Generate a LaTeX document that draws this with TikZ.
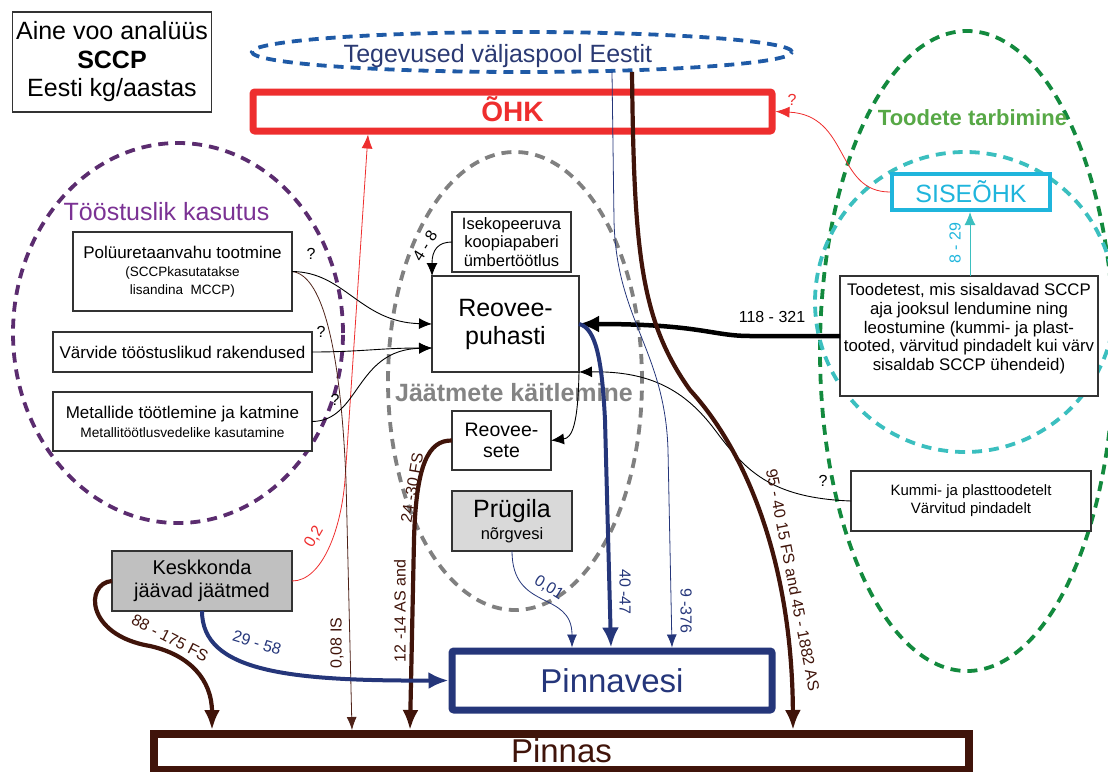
\documentclass[tikz,border=0pt]{standalone}
\usepackage{fontspec}
\setmainfont{Liberation Sans}
\usetikzlibrary{arrows.meta,calc,shapes.geometric}

\definecolor{navy}{HTML}{25367A}
\definecolor{brownflow}{HTML}{40140A}
\definecolor{brownthin}{HTML}{4E2218}
\definecolor{ohkred}{HTML}{EE2E2E}
\definecolor{purpdash}{HTML}{5B2C6F}
\definecolor{purptext}{HTML}{7B3294}
\definecolor{bluedash}{HTML}{1F5AA6}
\definecolor{bluetext}{HTML}{2B3A73}
\definecolor{greydash}{HTML}{808080}
\definecolor{greytext}{HTML}{848484}
\definecolor{greendash}{HTML}{138A3E}
\definecolor{greentext}{HTML}{57A846}
\definecolor{tealdash}{HTML}{3BBFBF}
\definecolor{cyanbox}{HTML}{1FB5DC}
\definecolor{boxgrey}{HTML}{C0C0C0}
\definecolor{boxlight}{HTML}{D9D9D9}

\newcommand{\fsz}[2]{\fontsize{#1}{#2}\selectfont}

\begin{document}
\begin{tikzpicture}[x=1pt,y=-1pt,
  every node/.style={inner sep=0pt,outer sep=0pt},
  box/.style={draw=black!80,line width=1.1pt,fill=white,align=center},
  region/.style={line width=3.8pt,dash pattern=on 10pt off 7pt},
  lbl/.style={font=\fsz{16}{18}},
  flowblack/.style={draw=black,line width=0.9pt,-{Latex[length=13pt,width=11pt]}},
  flowbig/.style={draw=black,line width=4.5pt,-{Latex[length=20pt,width=17pt]}},
  flowbrown/.style={draw=brownflow,line width=4.2pt,-{Latex[length=20pt,width=16pt]}},
  flowbrownthin/.style={draw=brownthin,line width=0.8pt,-{Latex[length=13pt,width=10pt]}},
  flownavy/.style={draw=navy,line width=4pt,-{Latex[length=20pt,width=17pt]}},
  flownavythin/.style={draw=navy,line width=0.8pt,-{Latex[length=13pt,width=10pt]}},
  flowred/.style={draw=ohkred,line width=0.8pt,-{Latex[length=14pt,width=11pt]}},
  flowteal/.style={draw=tealdash,line width=1pt,-{Latex[length=13pt,width=11pt]}}
]
\clip (0,0) rectangle (1108,771);

% ---- regions (dashed outlines) ----
\draw[region,draw=purpdash] (178,333) ellipse [x radius=165pt,y radius=190pt];
\draw[region,draw=greydash] (515,381) ellipse [x radius=127pt,y radius=229pt];
\draw[region,draw=greendash] (967,351) ellipse [x radius=147pt,y radius=320pt];
\draw[region,draw=tealdash] (965,302) ellipse [x radius=150pt,y radius=150pt];
\node[ellipse,region,draw=bluedash,minimum width=540pt,minimum height=40pt] (abroad) at (522,52) {};

% ---- region labels ----
\node[anchor=base,text=bluetext,font=\fsz{25}{30}] (abroadlbl) at (498,62) {Tegevused väljaspool Eestit};
\node[anchor=base,text=purptext,font=\fsz{25}{30}] (induslbl) at (166.5,220) {Tööstuslik kasutus};
\node[anchor=base,text=greytext,font=\bfseries\fsz{25}{30}] (wastelbl) at (514,401) {Jäätmete käitlemine};
\node[anchor=base,text=greentext,font=\bfseries\fsz{22}{26}] (uselbl) at (972.5,125) {Toodete tarbimine};

% ---- boxes ----
\node[box,minimum width=199pt,minimum height=100pt,font=\fsz{25}{28.5}] (title) at (112,62)
  {Aine voo analüüs\\\textbf{SCCP}\\Eesti kg/aastas};

\node[draw=ohkred,line width=7pt,rounded corners=2pt,minimum width=519pt,minimum height=39pt,
  outer sep=3.5pt,text=ohkred,font=\bfseries\fsz{28}{32},text height=20pt,text depth=0pt] (ohk) at (512.5,111.5) {ÕHK};

\node[box,minimum width=219pt,minimum height=79pt,font=\fsz{13.5}{18}] (poly) at (182.5,271.5)
  {{\fsz{17}{19}Polüuretaanvahu tootmine}\\(SCCPkasutatakse\\lisandina\ \ MCCP)};
\node[box,minimum width=259pt,minimum height=40pt,font=\fsz{17}{20}] (varv) at (182.5,352)
  {Värvide tööstuslikud rakendused};
\node[box,minimum width=259pt,minimum height=59pt,font=\fsz{13.7}{19}] (metal) at (182.5,421.5)
  {{\fsz{17}{19}Metallide töötlemine ja katmine}\\Metallitöötlusvedelike kasutamine};

\node[box,minimum width=119pt,minimum height=60pt,font=\fsz{16.5}{18.5}] (iseko) at (511.5,242)
  {Isekopeeruva\\koopiapaberi\\ümbertöötlus};
\node[box,minimum width=147pt,minimum height=96pt,font=\fsz{25}{28}] (reo) at (505.5,324)
  {Reovee-\\puhasti};
\node[box,minimum width=99pt,minimum height=59pt,font=\fsz{19.5}{21}] (sete) at (501.5,440.5)
  {Reovee-\\sete};
\node[box,fill=boxlight,minimum width=120pt,minimum height=60pt,font=\fsz{16.5}{22}] (prug) at (512,521)
  {{\fsz{25}{22}Prügila}\\nõrgvesi};
\node[box,fill=boxgrey,minimum width=180pt,minimum height=60pt,font=\fsz{20}{23}] (kesk) at (202,581)
  {Keskkonda\\jäävad jäätmed};

\node[draw=navy,line width=7pt,rounded corners=2pt,minimum width=320pt,minimum height=59pt,outer sep=3.5pt,
  text=navy,font=\fsz{33}{36},text height=23pt,text depth=0pt] (pinnavesi) at (612,680.5) {Pinnavesi};
\node[draw=brownflow,line width=8pt,minimum width=815pt,minimum height=36pt,outer sep=4pt,
  text=brownflow,font=\fsz{33}{36},text height=20pt,text depth=0pt] (pinnas) at (561.5,752) {Pinnas};

\node[draw=cyanbox,fill=white,line width=4pt,minimum width=158pt,minimum height=36pt,outer sep=2pt,
  text=cyanbox,font=\fsz{25}{28},text height=20pt,text depth=0pt] (siseohk) at (971,192) {SISEÕHK};
\node[box,minimum width=258pt,minimum height=120pt,font=\fsz{16.8}{18.7}] (tood) at (969,336)
  {Toodetest, mis sisaldavad SCCP\\aja jooksul lendumine ning\\leostumine (kummi- ja plast-\\tooted, värvitud pindadelt kui värv\\sisaldab SCCP ühendeid)\\[-1pt]\mbox{}};
\node[box,minimum width=240pt,minimum height=60pt,font=\fsz{15}{18}] (kummi) at (971,501)
  {Kummi- ja plasttoodetelt\\Värvitud pindadelt};

% ---- flows ----
% to air
\draw[flowred] (kesk.east) .. controls (322,581) and (341,530) .. (345,480) -- (368,0 |- ohk.south);
\draw[flowred] (siseohk.west) .. controls (835,192) and (850,115) .. (ohk.east);
\draw[flowteal] (970,0 |- tood.north) -- (970,0 |- siseohk.south);

% industrial uses
\draw[flowbrownthin] (poly.east) .. controls (325,275) and (341,360) .. (346,480) -- (352,0 |- pinnas.north);
\draw[flowblack] (poly.east) .. controls (345,272) and (360,322) .. (reo.west);
\draw[flowblack] (varv.east) .. controls (360,352) and (380,348) .. ($(reo.west)+(0,24)$);
\draw[flowblack] (metal.east) .. controls (360,421) and (355,350) .. ($(reo.west)+(0,24)$);

% waste handling
\draw[flowblack] (iseko.west) .. controls (438,242) and (432,250) .. (reo.north west);
\draw[flowblack] (reo.south east) .. controls (578,425) and (572,438) .. (sete.east);
\draw[flowbig] (tood.west) -- (750,336) .. controls (712,336) and (700,324) .. (reo.east);
\draw[flowblack] (kummi.west) .. controls (770,498) and (745,470) .. (715,430)
  .. controls (685,390) and (650,371) .. (reo.south east);
\draw[flownavy] (reo.east) .. controls (596,328) and (602,360) .. (605,420) -- (611,0 |- pinnavesi.north);
\draw[flowbrown] (sete.west) .. controls (428,440) and (416,465) .. (414,540) -- (410,0 |- pinnas.north);
\draw[flownavythin] (prug.south) .. controls (512,612) and (572,590) .. (572,0 |- pinnavesi.north);

% from abroad
\draw[flownavythin] (612,0 |- abroad.south) -- (614,220) .. controls (616,320) and (665,350) .. (668,450)
  -- (672,0 |- pinnavesi.north);
\draw[flowbrown] (632,0 |- abroad.south) .. controls (634,250) and (640,320) .. (690,390)
  .. controls (745,450) and (792,560) .. (793,0 |- pinnas.north);

% remaining waste
\draw[flowbrown] (kesk.west) .. controls (85,583) and (85,635) .. (150,646)
  .. controls (190,655) and (212,680) .. (212,0 |- pinnas.north);
\draw[flownavy] (kesk.south) .. controls (202,672) and (290,681) .. (pinnavesi.west);

% ---- flow labels ----
\node[lbl,text=ohkred,rotate=60] (l02) at (314,537) {0,2};
\node[lbl,text=ohkred] (q5) at (792,100) {?};
\node[lbl,text=cyanbox,rotate=90] (l829) at (955,243) {8 - 29};
\node[lbl,text=brownflow,rotate=90] (l008) at (337,643) {0,08 IS};
\node[lbl] (q1) at (311,254) {?};
\node[lbl] (q2) at (321,332) {?};
\node[lbl] (q3) at (335,400) {?};
\node[lbl] (q4) at (823,481) {?};
\node[lbl,rotate=58] (l48) at (425,246) {4 - 8};
\node[lbl] (l118) at (772,317) {118 - 321};
\node[lbl,text=navy,rotate=-90] (l4047) at (625,592) {40 -47};
\node[lbl,text=navy,rotate=-90] (l9376) at (686,611) {9 -376};
\node[lbl,text=brownflow,rotate=-79] (l95) at (793,580) {95 - 40 15 FS and 45 - 1882 AS};
\node[lbl,text=brownflow,rotate=90] (l1214) at (400,611) {12 -14 AS and};
\node[lbl,text=brownflow,rotate=80] (l2430) at (412,488) {24 -30 FS};
\node[lbl,text=brownflow,rotate=-27] (l88) at (170,638) {88 - 175 FS};
\node[lbl,text=navy,rotate=-17] (l2958) at (257,643) {29 - 58};
\node[lbl,text=navy,rotate=-32] (l001) at (549,588) {0,01};
\end{tikzpicture}
\end{document}
